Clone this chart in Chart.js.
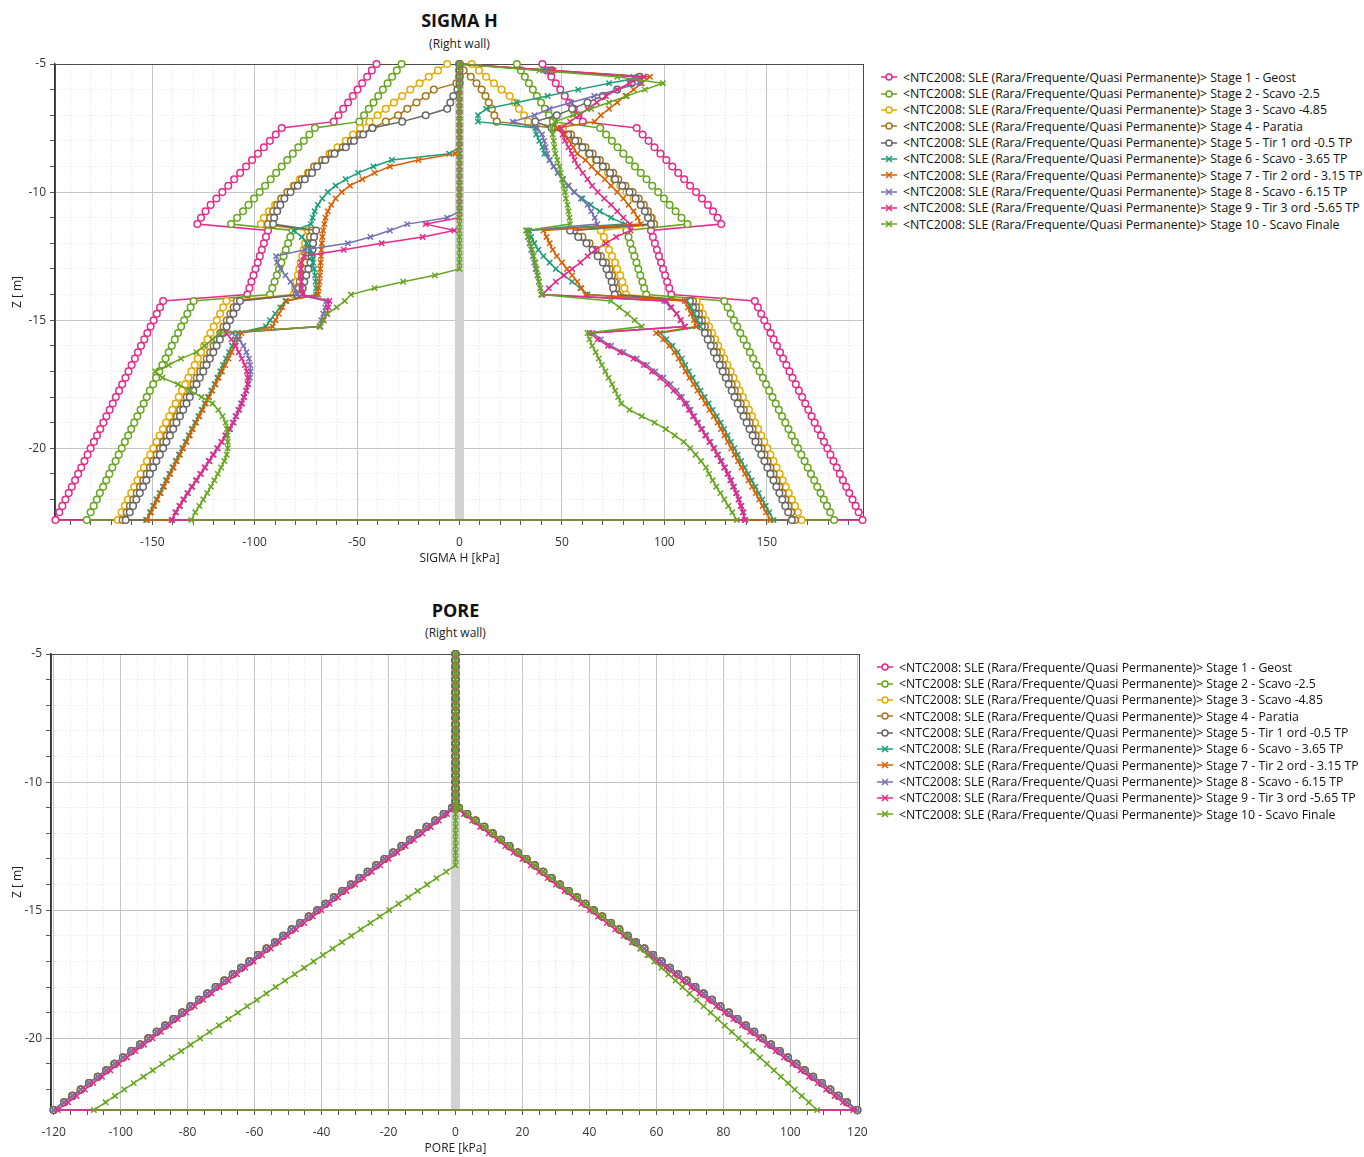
<!DOCTYPE html>
<html>
<head>
<meta charset="utf-8">
<title>SIGMA H / PORE</title>
<script src="https://cdn.jsdelivr.net/npm/chart.js@4.4.1/dist/chart.umd.min.js"></script>
<style>
body { margin: 0; width: 1364px; height: 1157px; overflow: hidden; background: #fff; position: relative; font-family: "Open Sans", sans-serif; color: #111; }
canvas { position: absolute; left: 0; }
.ttl { position: absolute; text-align: center; font-weight: bold; font-size: 18px; line-height: 24px; }
.sub { position: absolute; text-align: center; font-size: 12px; line-height: 16px; color: #222; }
.legend { position: absolute; font-size: 12.3px; color: #111; }
.legend div { height: 16.35px; display: flex; align-items: center; white-space: nowrap; }
.legend svg { margin-right: 6px; flex: none; }
</style>
</head>
<body>
<div class="ttl" style="left:55px;width:809px;top:8px">SIGMA H</div>
<div class="sub" style="left:55px;width:809px;top:36px">(Right wall)</div>
<canvas id="sigmaChart" width="870" height="570" style="top:0"></canvas>
<div class="legend" id="sigmaLegend" style="left:881px;top:69px"></div>

<div class="ttl" style="left:51px;width:809px;top:598px">PORE</div>
<div class="sub" style="left:51px;width:809px;top:625px">(Right wall)</div>
<canvas id="poreChart" width="880" height="570" style="top:590px"></canvas>
<div class="legend" id="poreLegend" style="left:877px;top:659px"></div>

<script>
// depth of the wall nodes [m]
const depth = [
  -5, -5.25, -5.5, -5.75, -6, -6.25, -6.5, -6.75,
  -7, -7.25, -7.5, -7.75, -8, -8.25, -8.5, -8.75,
  -9, -9.25, -9.5, -9.75, -10, -10.25, -10.5, -10.75,
  -11, -11.25, -11.5, -11.75, -12, -12.25, -12.5, -12.75,
  -13, -13.25, -13.5, -13.75, -14, -14.25, -14.5, -14.75,
  -15, -15.25, -15.5, -15.75, -16, -16.25, -16.5, -16.75,
  -17, -17.25, -17.5, -17.75, -18, -18.25, -18.5, -18.75,
  -19, -19.25, -19.5, -19.75, -20, -20.25, -20.5, -20.75,
  -21, -21.25, -21.5, -21.75, -22, -22.25, -22.5, -22.8
];

const stageNames = [
  'Stage 1 - Geost', 'Stage 2 - Scavo -2.5', 'Stage 3 - Scavo -4.85', 'Stage 4 - Paratia',
  'Stage 5 - Tir 1 ord -0.5 TP', 'Stage 6 - Scavo - 3.65 TP', 'Stage 7 - Tir 2 ord - 3.15 TP',
  'Stage 8 - Scavo - 6.15 TP', 'Stage 9 - Tir 3 ord -5.65 TP', 'Stage 10 - Scavo Finale'
];
const combo = '<NTC2008: SLE (Rara/Frequente/Quasi Permanente)> ';

// SIGMA H [kPa], left side of the wall
const sigmaL1 = [
  -40.5, -42.8, -45.1, -47.5, -49.8, -52.1, -54.4, -56.8,
  -59.1, -61.4, -86.8, -89.7, -92.6, -95.5, -98.4, -101.3,
  -104.2, -107.1, -110.0, -112.9, -115.8, -118.7, -121.5, -124.0,
  -126.2, -128.0, -93.5, -94.5, -95.5, -96.5, -97.5, -98.5,
  -99.6, -100.6, -101.6, -102.6, -103.6, -144.7, -146.2, -147.8,
  -149.3, -150.8, -152.4, -153.9, -155.5, -157.0, -158.5, -160.1,
  -161.6, -163.1, -164.7, -166.2, -167.8, -169.3, -170.8, -172.4,
  -173.9, -175.4, -177.0, -178.5, -180.1, -181.6, -183.1, -184.7,
  -186.2, -187.7, -189.3, -190.8, -192.4, -193.9, -195.4, -197.3
];
const sigmaL2 = [
  -28.3, -30.6, -32.9, -35.1, -37.4, -39.7, -42.0, -44.3,
  -46.6, -48.9, -70.6, -73.3, -76.0, -78.7, -81.4, -84.1,
  -86.8, -89.5, -92.2, -94.9, -97.6, -100.3, -103.0, -105.7,
  -108.6, -111.5, -81.5, -82.6, -83.7, -84.8, -85.9, -87.0,
  -88.1, -89.2, -90.3, -91.4, -92.5, -129.8, -131.3, -132.9,
  -134.4, -135.9, -137.4, -139.0, -140.5, -142.0, -143.5, -145.1,
  -146.6, -148.1, -149.6, -151.2, -152.7, -154.2, -155.7, -157.3,
  -158.8, -160.3, -161.8, -163.4, -164.9, -166.4, -167.9, -169.5,
  -171.0, -172.5, -174.0, -175.6, -177.1, -178.6, -180.1, -182.0
];
const sigmaL3 = [
  -6, -10.5, -15, -19.5, -24, -28, -32, -36,
  -40, -44, -48.5, -52, -55.5, -59.5, -63.5, -67,
  -70.5, -74, -78, -81, -84, -87, -90, -93,
  -95.5, -97, -74, -74.7, -75.4, -76.1, -76.8, -77.5,
  -78.2, -78.9, -79.6, -80.3, -81.0, -113.8, -115.4, -116.9,
  -118.5, -120.0, -121.6, -123.1, -124.7, -126.2, -127.8, -129.3,
  -130.9, -132.4, -134.0, -135.5, -137.1, -138.6, -140.2, -141.7,
  -143.3, -144.8, -146.4, -147.9, -149.5, -151.0, -152.6, -154.1,
  -155.7, -157.2, -158.8, -160.3, -161.9, -163.4, -165.0, -166.8
];
const sigmaL4 = [
  0, 0, 0, -1.5, -12.5, -16.5, -21, -25.5,
  -30, -36, -42.5, -48.5, -53, -57, -62.5, -67,
  -71, -73.5, -77, -80.5, -84, -87, -89, -91,
  -92.5, -93.5, -72, -73, -73.5, -74, -74.5, -75,
  -76, -77, -78, -78.8, -79.5, -108.7, -110.3, -111.9,
  -113.6, -115.2, -116.8, -118.5, -120.1, -121.7, -123.4, -125.0,
  -126.6, -128.3, -129.9, -131.5, -133.2, -134.8, -136.4, -138.0,
  -139.7, -141.3, -142.9, -144.6, -146.2, -147.8, -149.5, -151.1,
  -152.7, -154.4, -156.0, -157.6, -159.3, -160.9, -162.5, -164.5
];
const sigmaL5 = [
  0, 0, 0, 0, -1, -3, -4.5, -6,
  -16.5, -28, -42.5, -47, -51.5, -55.5, -61, -65.5,
  -69.5, -72, -75.5, -79, -82.5, -85.5, -87.5, -89,
  -90.5, -91, -70, -71, -71.5, -71.8, -72.2, -72.8,
  -73.8, -74.8, -75.8, -76.6, -77.4, -107.2, -108.8, -110.4,
  -112.1, -113.7, -115.3, -117.0, -118.6, -120.2, -121.9, -123.5,
  -125.1, -126.8, -128.4, -130.0, -131.7, -133.3, -134.9, -136.5,
  -138.2, -139.8, -141.4, -143.1, -144.7, -146.3, -148.0, -149.6,
  -151.2, -152.9, -154.5, -156.1, -157.8, -159.4, -161.0, -163.0
];
const sigmaL6 = [
  0, 0, 0, 0, 0, 0, 0, 0,
  0, 0, 0, 0, 0, 0, -5, -33,
  -42, -49.5, -55.6, -60.5, -64.3, -67, -69.2, -70.7,
  -71.7, -72.5, -81, -77, -74.5, -72.8, -72, -71.5,
  -71, -70.5, -70.2, -70, -70, -85, -87.5, -90,
  -92.5, -94.5, -108, -109.5, -111, -112.5, -114, -115.5,
  -116.8, -118.2, -119.6, -121.2, -122.8, -124.4, -125.9, -127.5,
  -129.1, -130.7, -132.2, -133.8, -135.4, -137.0, -138.5, -140.1,
  -141.7, -143.3, -144.8, -146.4, -148.0, -149.6, -151.1, -153.0
];
const sigmaL7 = [
  0, 0, 0, 0, 0, 0, 0, 0,
  0, 0, 0, 0, 0, 0, -2, -20,
  -34, -41.5, -47.4, -53.5, -57.5, -60.5, -62.6, -64.3,
  -65.4, -66, -66.6, -67, -67.2, -67.4, -67.6, -67.8,
  -68, -68.2, -68.4, -68.7, -69, -84.5, -86.5, -88.2,
  -89.8, -91.2, -106.5, -108.1, -109.7, -111.3, -112.8, -114.4,
  -116.0, -117.6, -119.1, -120.7, -122.3, -123.9, -125.4, -127.0,
  -128.6, -130.2, -131.7, -133.3, -134.9, -136.5, -138.0, -139.6,
  -141.2, -142.8, -144.3, -145.9, -147.5, -149.1, -150.6, -152.5
];
const sigmaL8 = [
  0, 0, 0, 0, 0, 0, 0, 0,
  0, 0, 0, 0, 0, 0, 0, 0,
  0, 0, 0, 0, 0, 0, 0, 0,
  -6, -25.5, -34, -43.5, -54.5, -75.5, -89.6, -89,
  -87.3, -85, -82.5, -80.5, -79.4, -65, -65.5, -66.5,
  -67.5, -68.3, -111, -107.5, -105.5, -104, -102.8, -102.2,
  -102, -102.3, -103, -104, -105.5, -106.7, -108, -109.4,
  -110.2, -112, -114, -116, -118, -120, -122, -124.1,
  -126.2, -128.3, -130.4, -132.5, -134.5, -136.4, -138.3, -140.2
];
const sigmaL9 = [
  0, 0, 0, 0, 0, 0, 0, 0,
  0, 0, 0, 0, 0, 0, 0, 0,
  0, 0, 0, 0, 0, 0, 0, 0,
  0, -16.5, -2.5, -18, -38, -56.5, -76, -77.4,
  -77.4, -77.4, -77.3, -77, -76.7, -63.5, -64, -64.8,
  -66.3, -68, -114, -111.3, -109.3, -107.8, -106.3, -104.8,
  -103.8, -103.4, -103.5, -104.3, -105.1, -106.2, -107.5, -109,
  -110.7, -112.5, -114.4, -116.3, -118.3, -120.4, -122.4, -124.5,
  -126.6, -128.7, -130.8, -132.9, -134.9, -136.8, -138.7, -140.6
];
const sigmaL10 = [
  0, 0, 0, 0, 0, 0, 0, 0,
  0, 0, 0, 0, 0, 0, 0, 0,
  0, 0, 0, 0, 0, 0, 0, 0,
  0, 0, 0, 0, 0, 0, 0, 0,
  0, -12, -27.5, -41.5, -53, -56, -60, -64.5,
  -66.5, -68, -117, -120.5, -124.5, -128.5, -136, -142,
  -148.5, -145, -137.5, -131.5, -126, -120.6, -117.8, -115.7,
  -114.2, -113.6, -113.3, -113.1, -113.2, -113.7, -114.8, -116.4,
  -118, -119.7, -121.4, -123.2, -125.1, -127, -129, -131
];

// SIGMA H [kPa], right side of the wall
const sigmaR1 = [
  40.5, 42.6, 44.8, 47.0, 49.2, 51.4, 53.6, 55.8,
  58.0, 60.2, 86.5, 89.4, 92.3, 95.2, 98.1, 101.0,
  103.9, 106.8, 109.7, 112.6, 115.5, 118.4, 121.3, 123.8,
  126.0, 127.8, 93.5, 94.4, 95.4, 96.4, 97.4, 98.4,
  99.4, 100.4, 101.4, 102.4, 103.4, 144.2, 145.7, 147.3,
  148.8, 150.3, 151.9, 153.4, 155.0, 156.5, 158.0, 159.6,
  161.1, 162.6, 164.2, 165.7, 167.3, 168.8, 170.3, 171.9,
  173.4, 174.9, 176.5, 178.0, 179.6, 181.1, 182.6, 184.2,
  185.7, 187.2, 188.8, 190.3, 191.9, 193.4, 194.9, 196.8
];
const sigmaR2 = [
  28.0, 30.0, 31.9, 33.9, 35.8, 37.8, 39.8, 41.7,
  43.7, 45.6, 68.7, 71.6, 74.4, 77.2, 80.0, 82.9,
  85.7, 88.5, 91.3, 94.1, 97.0, 99.8, 102.6, 105.5,
  108.4, 111.3, 81.5, 82.5, 83.4, 84.4, 85.4, 86.4,
  87.3, 88.3, 89.3, 90.2, 91.2, 129.3, 130.9, 132.4,
  134.0, 135.6, 137.1, 138.7, 140.3, 141.8, 143.4, 145.0,
  146.5, 148.1, 149.7, 151.2, 152.8, 154.4, 155.9, 157.5,
  159.1, 160.6, 162.2, 163.8, 165.3, 166.9, 168.5, 170.0,
  171.6, 173.2, 174.7, 176.3, 177.9, 179.4, 181.0, 182.9
];
const sigmaR3 = [
  6, 9.5, 13, 16.8, 20.5, 24.5, 27, 29,
  31.5, 33.5, 50.5, 54, 57, 60, 63, 66.5,
  70, 72.5, 75.5, 78.5, 81.5, 85, 88.5, 92,
  94, 95, 69, 70.5, 71.5, 73, 74.5, 76,
  77, 78.5, 79.5, 80.5, 81.3, 115.8, 117.3, 118.8,
  120.3, 121.8, 123.3, 124.8, 126.3, 127.8, 129.3, 130.8,
  132.3, 133.8, 135.3, 136.8, 138.3, 139.8, 141.3, 142.8,
  144.3, 145.8, 147.3, 148.8, 150.3, 151.8, 153.3, 154.8,
  156.3, 157.8, 159.3, 160.8, 162.3, 163.8, 165.3, 167.1
];
const sigmaR4 = [
  0, 2, 5.5, 8.3, 10.8, 12.7, 14.3, 15.8,
  17, 18.2, 46, 54.5, 58, 61.5, 65, 68.5,
  71.5, 75, 77.5, 81, 84.5, 87.5, 90, 92,
  93.5, 95, 56, 60, 63.5, 66.5, 69, 71.5,
  73.3, 74.5, 75.8, 76.5, 77.3, 114.0, 115.5, 116.9,
  118.4, 119.8, 121.3, 122.7, 124.2, 125.7, 127.1, 128.6,
  130.0, 131.5, 132.9, 134.4, 135.8, 137.3, 138.8, 140.2,
  141.7, 143.1, 144.6, 146.0, 147.5, 148.9, 150.4, 151.8,
  153.3, 154.8, 156.2, 157.7, 159.1, 160.6, 162.0, 163.8
];
const sigmaR5 = [
  0, 45, 88, 84, 77, 70, 62.5, 55,
  47.5, 37, 45, 53, 56.5, 60, 63.5, 67,
  70, 73.5, 76, 79.5, 83, 86, 88.5, 90.5,
  92, 93.5, 54, 58, 62, 65, 67.5, 70,
  71.8, 73, 74.3, 75, 75.8, 112.5, 114.0, 115.4,
  116.9, 118.3, 119.8, 121.2, 122.7, 124.2, 125.6, 127.1,
  128.5, 130.0, 131.4, 132.9, 134.3, 135.8, 137.3, 138.7,
  140.2, 141.6, 143.1, 144.5, 146.0, 147.4, 148.9, 150.3,
  151.8, 153.3, 154.7, 156.2, 157.6, 159.1, 160.5, 162.3
];
const sigmaR6 = [
  0, 41, 90, 73, 58, 43, 28, 13,
  9, 9, 37, 37.5, 39, 40.5, 41.5, 44,
  46, 48, 50.5, 53, 56, 60, 64, 68.5,
  74, 81, 34, 35, 36.5, 38.5, 41, 44,
  47, 51, 55, 59, 62.5, 111, 113, 114.5,
  116, 117.5, 98, 101, 104, 106.5, 108.5, 110.2,
  111.9, 113.8, 115.8, 117.7, 119.7, 121.6, 123.6, 125.6,
  127.5, 129.2, 130.9, 132.5, 134.2, 135.8, 137.5, 139.2,
  140.9, 142.6, 144.4, 146.1, 147.8, 149.5, 151.2, 153.3
];
const sigmaR7 = [
  0, 46, 93, 89, 85, 81, 77, 73,
  69, 66, 48, 51.5, 53.5, 55.5, 57.5, 61.5,
  64.5, 67.5, 71, 74, 77, 80, 82.5, 85,
  87, 88.5, 41, 42.5, 44, 45.5, 47.5, 50,
  52.5, 55, 57.5, 59.5, 61.5, 110, 111.5, 113,
  114.5, 115.6, 96, 99.5, 102.5, 105, 107, 108.7,
  110.4, 112.3, 114.3, 116.2, 118.2, 120.1, 122.1, 124.1,
  126, 127.7, 129.4, 131, 132.7, 134.3, 136, 137.7,
  139.4, 141.1, 142.9, 144.6, 146.3, 148, 149.7, 151.8
];
const sigmaR8 = [
  0, 42, 85, 88, 77, 65.8, 54.5, 44,
  36.6, 26, 38, 40.3, 41.3, 42, 42.8, 44,
  46, 48, 50.5, 53.3, 56, 59.3, 62.5, 64.3,
  66, 67.3, 33, 33.5, 34.2, 35, 35.8, 36.5,
  37.2, 38, 38.7, 39.5, 40, 100, 103, 106,
  108, 110, 65, 69, 74, 80, 86.5, 91.5,
  95.5, 99.5, 103, 106, 108.5, 111, 112.8, 114.6,
  116.5, 118.5, 120.5, 122.5, 124.5, 126.3, 128, 129.7,
  131.3, 132.7, 134.1, 135.4, 136.6, 137.7, 138.7, 139.6
];
const sigmaR9 = [
  0, 45, 90, 83, 77, 71.5, 67, 62.5,
  58.5, 54, 49.6, 50.4, 51.5, 53.2, 54.8, 56.2,
  57.9, 60.2, 62.5, 64.8, 67.5, 70.7, 74, 77,
  80, 83.2, 83.5, 76.5, 71.5, 66.5, 62.5, 59,
  55, 51, 47, 43.6, 40.5, 101, 103.5, 106,
  108, 110, 63.5, 67.5, 72.5, 78.5, 85, 90,
  94, 98, 101.5, 104.5, 107.5, 110, 112, 114,
  116, 118, 120, 122, 124, 125.8, 127.5, 129.2,
  130.8, 132.2, 133.6, 135, 136.2, 137.3, 138.3, 139.2
];
const sigmaR10 = [
  0, 39, 77, 99.3, 90.5, 81.7, 73, 64.2,
  55.4, 46.6, 45, 45.5, 46, 46.3, 46.8, 47.8,
  48.8, 49.4, 50, 50.8, 51.5, 52, 52.7, 53.2,
  53.7, 54, 32.5, 33.5, 34.5, 35.5, 36.2, 37,
  37.7, 38.3, 38.8, 39.4, 40, 74, 78, 82,
  85.5, 89, 62.5, 63.5, 64.8, 66.5, 68, 69.5,
  71.2, 72.8, 74.5, 76, 77.5, 79, 83, 89,
  95.2, 100.7, 105.1, 109.5, 112.7, 115.3, 117.9, 120.3,
  121.8, 123.6, 125.4, 127.4, 129.3, 131.3, 133.2, 135.4
];

// PORE [kPa]
const poreL = [
  0, 0, 0, 0, 0, 0, 0, 0,
  0, 0, 0, 0, 0, 0, 0, 0,
  0, 0, 0, 0, 0, 0, 0, 0,
  -1.0, -3.5, -6.0, -8.6, -11.1, -13.6, -16.1, -18.6,
  -21.2, -23.7, -26.2, -28.7, -31.2, -33.8, -36.3, -38.8,
  -41.3, -43.8, -46.4, -48.9, -51.4, -53.9, -56.4, -59.0,
  -61.5, -64.0, -66.5, -69.0, -71.6, -74.1, -76.6, -79.1,
  -81.6, -84.2, -86.7, -89.2, -91.7, -94.2, -96.8, -99.3,
  -101.8, -104.3, -106.8, -109.4, -111.9, -114.4, -116.9, -120.0
];
const poreL9 = [
  0, 0, 0, 0, 0, 0, 0, 0,
  0, 0, 0, 0, 0, 0, 0, 0,
  0, 0, 0, 0, 0, 0, 0, 0,
  -0.5, -2.5, -5.0, -7.4, -9.9, -12.4, -14.9, -17.4,
  -20.0, -22.5, -25.0, -27.5, -30.0, -32.6, -35.1, -37.6,
  -40.1, -42.6, -45.2, -47.7, -50.2, -52.7, -55.2, -57.8,
  -60.3, -62.8, -65.3, -67.8, -70.4, -72.9, -75.4, -77.9,
  -80.4, -83.0, -85.5, -88.0, -90.5, -93.0, -95.6, -98.1,
  -100.6, -103.1, -105.6, -108.2, -110.7, -113.2, -115.7, -118.8
];
const poreL10 = [
  0, 0, 0, 0, 0, 0, 0, 0,
  0, 0, 0, 0, 0, 0, 0, 0,
  0, 0, 0, 0, 0, 0, 0, 0,
  0, 0, 0, 0, 0, 0, 0, 0,
  0, 0, -2.8, -5.7, -8.5, -11.3, -14.1, -17.0,
  -19.8, -22.6, -25.4, -28.3, -31.1, -33.9, -36.7, -39.6,
  -42.4, -45.2, -48.0, -50.9, -53.7, -56.5, -59.3, -62.2,
  -65.0, -67.8, -70.6, -73.5, -76.3, -79.1, -81.9, -84.8,
  -87.6, -90.4, -93.2, -96.1, -98.9, -101.7, -104.5, -108.0
];
const poreR = [
  0, 0, 0, 0, 0, 0, 0, 0,
  0, 0, 0, 0, 0, 0, 0, 0,
  0, 0, 0, 0, 0, 0, 0, 0,
  1.0, 3.5, 6.0, 8.6, 11.1, 13.6, 16.1, 18.6,
  21.2, 23.7, 26.2, 28.7, 31.2, 33.8, 36.3, 38.8,
  41.3, 43.8, 46.4, 48.9, 51.4, 53.9, 56.4, 59.0,
  61.5, 64.0, 66.5, 69.0, 71.6, 74.1, 76.6, 79.1,
  81.6, 84.2, 86.7, 89.2, 91.7, 94.2, 96.8, 99.3,
  101.8, 104.3, 106.8, 109.4, 111.9, 114.4, 116.9, 120.0
];
const poreR9 = [
  0, 0, 0, 0, 0, 0, 0, 0,
  0, 0, 0, 0, 0, 0, 0, 0,
  0, 0, 0, 0, 0, 0, 0, 0,
  0.5, 2.5, 5.0, 7.4, 9.9, 12.4, 14.9, 17.4,
  20.0, 22.5, 25.0, 27.5, 30.0, 32.6, 35.1, 37.6,
  40.1, 42.6, 45.2, 47.7, 50.2, 52.7, 55.2, 57.8,
  60.3, 62.8, 65.3, 67.8, 70.4, 72.9, 75.4, 77.9,
  80.4, 83.0, 85.5, 88.0, 90.5, 93.0, 95.6, 98.1,
  100.6, 103.1, 105.6, 108.2, 110.7, 113.2, 115.7, 118.8
];
const poreR10 = [
  0, 0, 0, 0, 0, 0, 0, 0,
  0, 0, 0, 0, 0, 0, 0, 0,
  0, 0, 0, 0, 0, 0, 0, 0,
  1.0, 3.5, 6.0, 8.6, 11.1, 13.6, 16.1, 18.6,
  21.2, 23.7, 26.2, 28.7, 31.2, 33.8, 36.3, 38.8,
  41.3, 43.8, 46.4, 48.9, 51.0, 53.1, 55.2, 57.3,
  59.4, 61.5, 63.6, 65.7, 67.8, 69.9, 72.0, 74.1,
  76.2, 78.3, 80.4, 82.5, 84.6, 86.7, 88.8, 90.9,
  93.0, 95.1, 97.2, 99.3, 101.3, 103.4, 105.5, 108.0
];

const sigmaLeft = [sigmaL1, sigmaL2, sigmaL3, sigmaL4, sigmaL5, sigmaL6, sigmaL7, sigmaL8, sigmaL9, sigmaL10];
const sigmaRight = [sigmaR1, sigmaR2, sigmaR3, sigmaR4, sigmaR5, sigmaR6, sigmaR7, sigmaR8, sigmaR9, sigmaR10];
const poreLeft = [poreL, poreL, poreL, poreL, poreL, poreL, poreL, poreL, poreL9, poreL10];
const poreRight = [poreR, poreR, poreR, poreR, poreR, poreR, poreR, poreR, poreR9, poreR10];

const sigmaLabels = [-150, -100, -50, 0, 50, 100, 150];
const poreLabels = [-120, -100, -80, -60, -40, -20, 0, 20, 40, 60, 80, 100, 120];
const depthLabels = [-20, -15, -10, -5];

const stageColors = ['#e7298a', '#66a61e', '#e6ab02', '#a6761d', '#666666',
                     '#1b9e77', '#d95f02', '#7570b3', '#e7298a', '#66a61e'];
const fontFamily = '"Open Sans", sans-serif';

function range(from, to, step) {
  const out = [];
  for (let v = from; v <= to + 1e-9; v += step) out.push(Math.round(v * 100) / 100);
  return out;
}

function branch(xs) {
  return xs.map((x, i) => ({ x: x, y: depth[i] }));
}

// each stage is drawn down the left face and back up the right face
function makeDatasets(left, right) {
  const sets = stageNames.map((name, i) => ({
    label: combo + name,
    data: branch(left[i]).concat(branch(right[i]).reverse()),
    showLine: true,
    borderColor: stageColors[i],
    borderWidth: 1.5,
    pointStyle: i < 5 ? 'circle' : 'crossRot',
    pointRadius: i < 5 ? 3.3 : 3.8,
    pointBorderWidth: 1.5,
    pointBorderColor: stageColors[i],
    pointBackgroundColor: '#ffffff',
    order: 11 - i,
    clip: 6
  }));
  sets.push({
    label: 'wall',
    data: [{ x: 0, y: -5 }, { x: 0, y: -22.8 }],
    showLine: true,
    borderColor: '#d2d2d2',
    borderWidth: 9,
    borderCapStyle: 'butt',
    pointRadius: 0,
    order: 100
  });
  return sets;
}

function axis(min, max, grid, labels, title, size, horizontal) {
  const isMajor = v => labels.indexOf(v) >= 0;
  return {
    type: 'linear',
    min: min,
    max: max,
    afterBuildTicks: ax => { ax.ticks = grid.map(v => ({ value: v })); },
    afterFit: ax => { if (horizontal) ax.height = size; else ax.width = size; },
    ticks: {
      autoSkip: false,
      maxRotation: 0,
      padding: horizontal ? 10 : 4,
      color: '#333',
      font: { family: fontFamily, size: 12 },
      callback: v => isMajor(v) ? String(v) : ''
    },
    grid: {
      color: ctx => (ctx.tick && isMajor(ctx.tick.value)) ? '#c4c4c4' : '#e3e3e3',
      lineWidth: 1,
      tickLength: 5,
      tickColor: '#555',
      tickWidth: 1
    },
    border: {
      display: true,
      color: '#333',
      width: 1.5,
      dash: ctx => (ctx.tick && !isMajor(ctx.tick.value)) ? [1, 2] : []
    },
    title: {
      display: true,
      text: title,
      color: '#222',
      font: { family: fontFamily, size: 12 },
      padding: horizontal ? { top: 0, bottom: 2 } : { top: 10, bottom: 0 }
    }
  };
}

const framePlugin = {
  id: 'frame',
  beforeDatasetsDraw(chart) {
    const a = chart.chartArea;
    const c = chart.ctx;
    c.save();
    c.strokeStyle = '#4a4a4a';
    c.lineWidth = 1;
    c.strokeRect(a.left + 0.5, a.top + 0.5, a.right - a.left - 1, a.bottom - a.top - 1);
    c.restore();
  }
};

function drawChart(id, left, right, xMin, xMax, xGrid, xLabels, xTitle, yWidth, padRight) {
  return new Chart(document.getElementById(id), {
    type: 'scatter',
    data: { datasets: makeDatasets(left, right) },
    options: {
      responsive: false,
      animation: false,
      events: [],
      layout: { padding: { top: 64, right: padRight, bottom: 2, left: 0 } },
      plugins: { legend: { display: false }, tooltip: { enabled: false } },
      scales: {
        x: axis(xMin, xMax, xGrid, xLabels, xTitle, 48, true),
        y: axis(-22.8, -5, range(-22, -5, 1), depthLabels, 'Z [ m]', yWidth, false)
      }
    },
    plugins: [framePlugin]
  });
}

function escapeHtml(s) {
  return s.replace(/&/g, '&amp;').replace(/</g, '&lt;').replace(/>/g, '&gt;');
}

function buildLegend(id) {
  const rows = stageNames.map((name, i) => {
    const c = stageColors[i];
    const mark = i < 5
      ? `<circle cx="8" cy="5" r="3" fill="#fff" stroke="${c}" stroke-width="1.5"/>`
      : `<path d="M5 2 L11 8 M11 2 L5 8" stroke="${c}" stroke-width="1.5"/>`;
    return `<div><svg width="16" height="10"><line x1="0" y1="5" x2="16" y2="5" stroke="${c}" stroke-width="1.5"/>${mark}</svg><span>${escapeHtml(combo + name)}</span></div>`;
  });
  document.getElementById(id).innerHTML = rows.join('');
}

drawChart('sigmaChart', sigmaLeft, sigmaRight, -197.5, 197.5, range(-190, 190, 10), sigmaLabels, 'SIGMA H [kPa]', 55, 6);
drawChart('poreChart', poreLeft, poreRight, -120.8, 120.8, range(-120, 120, 5), poreLabels, 'PORE [kPa]', 51, 20);
buildLegend('sigmaLegend');
buildLegend('poreLegend');
</script>
</body>
</html>
